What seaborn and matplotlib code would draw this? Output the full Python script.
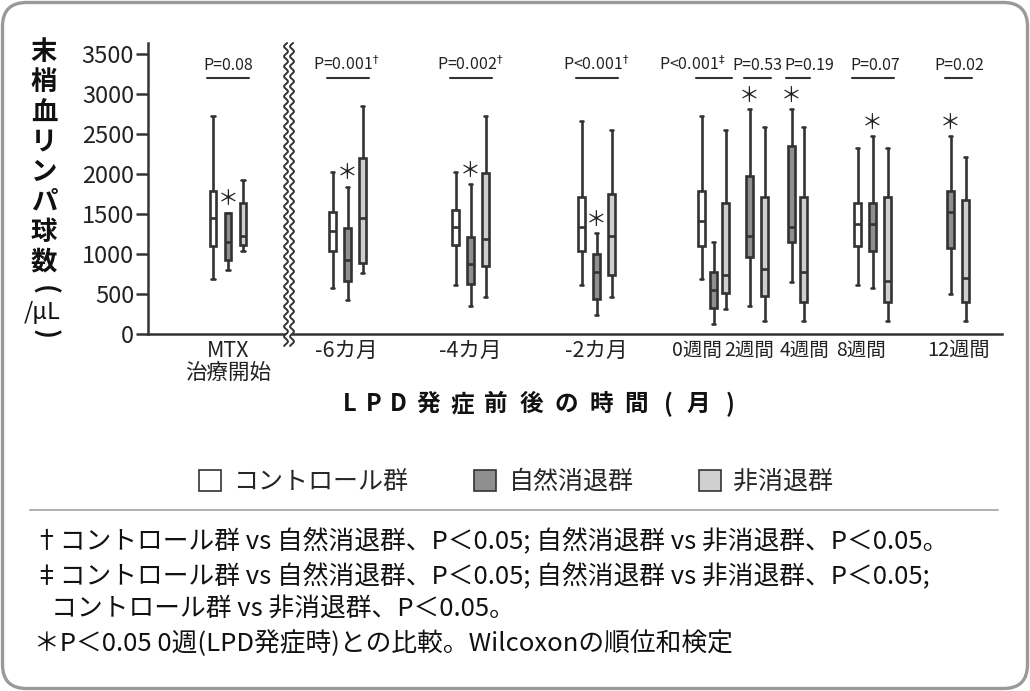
import numpy as np
import pandas as pd
import matplotlib
matplotlib.use("Agg")
import matplotlib.pyplot as plt
import seaborn as sns
from matplotlib.patches import Patch, FancyBboxPatch
from matplotlib import font_manager

# ---------------- data ----------------
categories = ["MTX\n治療開始", "-6カ月", "-4カ月", "-2カ月", "0週間", "2週間", "4週間", "8週間", "12週間"]
series_names = ["コントロール群", "自然消退群", "非消退群"]

# five-number summaries [whisker low, Q1, median, Q3, whisker high]
control_stats = [
    [683, 1104, 1446, 1783, 2729],
    [571, 1037, 1292, 1521, 2021],
    [608, 1108, 1338, 1554, 2021],
    [608, 1037, 1338, 1708, 2658],
    [688, 1104, 1408, 1783, 2729],
    None,
    None,
    [608, 1104, 1371, 1633, 2321],
    None,
]
spont_stats = [
    [800, 925, 1150, 1516, 1516],
    [425, 662, 921, 1329, 1838],
    [346, 621, 879, 1217, 1871],
    [233, 433, 771, 996, 1258],
    [121, 325, 550, 771, 1146],
    [346, 958, 1221, 1971, 2808],
    [646, 1146, 1333, 2346, 2808],
    [571, 1033, 1371, 1633, 2471],
    [496, 1071, 1521, 1783, 2471],
]
nonreg_stats = [
    [1041, 1112, 1225, 1633, 1929],
    [758, 887, 1446, 2196, 2846],
    [458, 846, 1183, 2008, 2729],
    [458, 733, 1221, 1746, 2546],
    [313, 508, 733, 1633, 2546],
    [158, 471, 808, 1708, 2583],
    [158, 396, 771, 1708, 2583],
    [158, 396, 658, 1708, 2321],
    [158, 396, 696, 1671, 2208],
]
p_labels = [r"P=0.08", r"P=0.001$^{\dagger}$", r"P=0.002$^{\dagger}$", r"P<0.001$^{\dagger}$",
            r"P<0.001$^{\ddagger}$", r"P=0.53", r"P=0.19", r"P=0.07", r"P=0.02"]
star_on_spont = [True, True, True, True, False, True, True, True, True]

yticks = [0, 500, 1000, 1500, 2000, 2500, 3000, 3500]

# ---------------- layout ----------------
group_center = [5.33, 13.3, 21.5, 29.9, 37.7, 40.6, 43.3, 48.3, 54.0]
group_spacing = [1, 1, 1, 1, 0.8, 1, 0.8, 1, 1]
label_pos = [5.33, 13.2, 21.5, 29.9, 36.6, 40.1, 43.8, 47.5, 54.0]
label_size = [15.5, 15.5, 15.5, 15.5, 14, 14, 14, 14, 14.5]
ptext_shift = [0, -0.1, 0, 0, -1.4, 0, 0.8, 0.2, 0.1]
colors = {"コントロール群": "#ffffff", "自然消退群": "#8f8f8f", "非消退群": "#cfcfcf"}
LC = "#333333"
JP = ["Noto Sans CJK JP", "DejaVu Sans"]
avail = {f.name for f in font_manager.fontManager.ttflist}
NARROW = ["Liberation Sans Narrow"] + JP if "Liberation Sans Narrow" in avail else JP

sns.set_theme(style="white")
plt.rcParams["font.family"] = JP
plt.rcParams["mathtext.fontset"] = "dejavusans"

# build long table
rows = []
box_positions = {}
all_stats = [control_stats, spont_stats, nonreg_stats]
for gi in range(len(categories)):
    present = [si for si in range(3) if all_stats[si][gi] is not None]
    n = len(present)
    offs = (np.arange(n) - (n - 1) / 2) * group_spacing[gi]
    for k, si in enumerate(present):
        pos = round(group_center[gi] + offs[k], 3)
        box_positions[(gi, si)] = pos
        for v in all_stats[si][gi]:
            rows.append({"pos": pos, "series": series_names[si], "value": v})
df = pd.DataFrame(rows)

W, H = 1030, 691
fig = plt.figure(figsize=(W / 100, H / 100), dpi=100)

# background axes in pixel coordinates
bg = fig.add_axes([0, 0, 1, 1], zorder=0)
bg.set_xlim(0, W)
bg.set_ylim(H, 0)
bg.axis("off")
bg.add_patch(FancyBboxPatch((2.5, 2.5), W - 5, H - 5, boxstyle="round,pad=0,rounding_size=24",
                            facecolor="white", edgecolor="#9a9a9a", linewidth=2.4))

ax_left, ax_right, ax_top, ax_bot = 148, 1002, 43, 334
ax = fig.add_axes([ax_left / W, 1 - ax_bot / H, (ax_right - ax_left) / W, (ax_bot - ax_top) / H], zorder=2)
ax.patch.set_alpha(0)

sns.boxplot(data=df, x="pos", y="value", hue="series", hue_order=series_names,
            palette=colors, native_scale=True, dodge=False, width=0.56, whis=(0, 100),
            saturation=1, linecolor=LC, linewidth=1.9, legend=False, ax=ax)

ymax = 3637
xmax = (ax_right - ax_left) / 15
ax.set_xlim(0, xmax)
ax.set_ylim(0, ymax)
ax.set_yticks(yticks)
ax.set_yticklabels([str(t) for t in yticks], fontsize=17, color="#222222")
ax.set_xticks(label_pos)
ax.set_xticklabels(categories, color="#222222", linespacing=1.0)
for lab, fs in zip(ax.get_xticklabels(), label_size):
    lab.set_fontsize(fs)
ax.tick_params(axis="x", length=0, pad=4)
ax.tick_params(axis="y", length=9, width=1.8, color=LC, pad=1, left=True)
ax.set_xlabel("")
ax.set_ylabel("")
for s in ["top", "right"]:
    ax.spines[s].set_visible(False)
for s in ["left", "bottom"]:
    ax.spines[s].set_color(LC)
    ax.spines[s].set_linewidth(1.8)

# stars
for gi, flag in enumerate(star_on_spont):
    if flag:
        top = spont_stats[gi][4]
        ax.text(box_positions[(gi, 1)], top + 170, "＊", ha="center", va="center",
                fontsize=15, color="#222222")

# p-values with underline
for gi, lab in enumerate(p_labels):
    xs = [box_positions[(gi, si)] for si in range(3) if (gi, si) in box_positions]
    ax.text(group_center[gi] + ptext_shift[gi], 3362, lab, ha="center", va="center",
            fontsize=11.5, color="#222222", family=NARROW)
    ax.plot([min(xs) - 0.4, max(xs) + 0.4], [3200, 3200], color=LC, lw=1.5, clip_on=False)

# axis break (double wavy line)
yy = np.linspace(-150, ymax, 800)
bx = 9.4
wave = 0.13 * np.sin(2 * np.pi * yy / 125)
ax.fill_betweenx(yy, bx - 0.2 + wave, bx + 0.2 + wave, color="white", zorder=5, clip_on=False, lw=0)
ax.plot(bx - 0.2 + wave, yy, color=LC, lw=1.4, zorder=6, clip_on=False)
ax.plot(bx + 0.2 + wave, yy, color=LC, lw=1.4, zorder=6, clip_on=False)

# y label (vertical stacked)
ychars = ["末", "梢", "血", "リ", "ン", "パ", "球", "数"]
for i, ch in enumerate(ychars):
    bg.text(44, 52 + 30 * i, ch, ha="center", va="center", fontsize=19, fontweight="bold", color="#111111")
bg.text(44, 290, "(", ha="center", va="center", fontsize=19, fontweight="bold", rotation=-90, color="#111111")
bg.text(42, 312, "/μL", ha="center", va="center", fontsize=17, color="#111111")
bg.text(44, 334, ")", ha="center", va="center", fontsize=19, fontweight="bold", rotation=-90, color="#111111")

# x title, spaced
tchars = list("LPD発症前後の時間(月)")
tx = [350, 374, 398, 428, 462, 496, 531, 566, 601, 636, 668, 698, 730]
for ch, x in zip(tchars, tx):
    bg.text(x, 404, ch, ha="center", va="center", fontsize=17, fontweight="bold", color="#111111")

# legend
handles = [Patch(facecolor=colors[n], edgecolor=LC, linewidth=1.2, label=n) for n in series_names]
fig.legend(handles=handles, loc="center", bbox_to_anchor=(516 / W, 1 - 482 / H), ncol=3,
           frameon=False, fontsize=18, handlelength=0.9, handleheight=0.9, handletextpad=0.5,
           columnspacing=2.6)

# separator
bg.plot([30, 998], [510, 510], color="#b0b0b0", lw=1.4)

# footnotes
fn = ["†コントロール群 vs 自然消退群、P＜0.05; 自然消退群 vs 非消退群、P＜0.05。",
      "‡コントロール群 vs 自然消退群、P＜0.05; 自然消退群 vs 非消退群、P＜0.05;",
      "   コントロール群 vs 非消退群、P＜0.05。",
      "＊P＜0.05 0週(LPD発症時)との比較。Wilcoxonの順位和検定"]
fy = [541, 576, 609, 644]
for t, y in zip(fn, fy):
    bg.text(34, y, t, ha="left", va="center", fontsize=18.5, color="#111111")

fig.savefig("out.png", dpi=100)
